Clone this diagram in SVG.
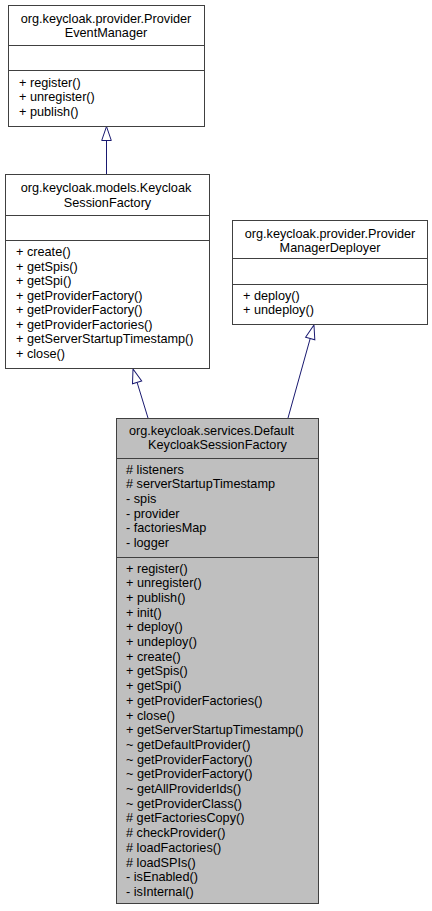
<svg xmlns="http://www.w3.org/2000/svg" width="432" height="911" viewBox="0 0 432 911">
<style>
text{font-family:"Liberation Sans",Arial,sans-serif;font-size:12.7px;fill:#000}
.t{text-anchor:middle}
.box{fill:#fff;stroke:#404040;stroke-width:1}
.cur{fill:#bfbfbf;stroke:#404040;stroke-width:1}
.div{stroke:#404040;stroke-width:1}
.edge{stroke:#191970;stroke-width:1;fill:none;marker-end:url(#tri)}
</style>
<defs>
<marker id="tri" markerUnits="userSpaceOnUse" markerWidth="16" markerHeight="12" refX="0.5" refY="6" orient="auto" overflow="visible">
<path d="M0.5,1.2 L14.5,6 L0.5,10.8 Z" fill="#fff" stroke="#191970" stroke-width="1"/>
</marker>
</defs>
<g id="connectors">
<path class="edge" d="M106.5,174 L106.5,140.5"/>
<path class="edge" d="M148,418 L137.1,382.4"/>
<path class="edge" d="M288,418 L310.2,338.5"/>
</g>
<g id="ProviderEventManager">
<rect class="box" x="8.5" y="5.5" width="196" height="121"/>
<line class="div" x1="8.5" y1="45.5" x2="204.5" y2="45.5"/>
<line class="div" x1="8.5" y1="70.5" x2="204.5" y2="70.5"/>
<text class="t" x="106" y="22.5">org.keycloak.provider.Provider</text>
<text class="t" x="106" y="37">EventManager</text>
<text x="19" y="86.5"><tspan x="19">+ register()</tspan><tspan x="19" dy="14.6">+ unregister()</tspan><tspan x="19" dy="14.6">+ publish()</tspan></text>
</g>
<g id="KeycloakSessionFactory">
<rect class="box" x="5.5" y="174.5" width="204" height="194"/>
<line class="div" x1="5.5" y1="215.5" x2="209.5" y2="215.5"/>
<line class="div" x1="5.5" y1="240.5" x2="209.5" y2="240.5"/>
<text class="t" x="106" y="192">org.keycloak.models.Keycloak</text>
<text class="t" x="107.5" y="206.5">SessionFactory</text>
<text x="16" y="256"><tspan x="16">+ create()</tspan><tspan x="16" dy="14.5">+ getSpis()</tspan><tspan x="16" dy="14.5">+ getSpi()</tspan><tspan x="16" dy="14.5">+ getProviderFactory()</tspan><tspan x="16" dy="14.5">+ getProviderFactory()</tspan><tspan x="16" dy="14.5">+ getProviderFactories()</tspan><tspan x="16" dy="14.5">+ getServerStartupTimestamp()</tspan><tspan x="16" dy="14.5">+ close()</tspan></text>
</g>
<g id="ProviderManagerDeployer">
<rect class="box" x="232.5" y="220.5" width="195" height="104"/>
<line class="div" x1="232.5" y1="258.5" x2="427.5" y2="258.5"/>
<line class="div" x1="232.5" y1="284.5" x2="427.5" y2="284.5"/>
<text class="t" x="330" y="237.5">org.keycloak.provider.Provider</text>
<text class="t" x="330" y="252">ManagerDeployer</text>
<text x="243" y="299.5"><tspan x="243">+ deploy()</tspan><tspan x="243" dy="14.6">+ undeploy()</tspan></text>
</g>
<g id="DefaultKeycloakSessionFactory">
<rect class="cur" x="116.5" y="418.5" width="202" height="485"/>
<line class="div" x1="116.5" y1="458.5" x2="318.5" y2="458.5"/>
<line class="div" x1="116.5" y1="557.5" x2="318.5" y2="557.5"/>
<text class="t" x="211.5" y="434.5">org.keycloak.services.Default</text>
<text class="t" x="217.5" y="449">KeycloakSessionFactory</text>
<text x="126" y="473.5"><tspan x="126"># listeners</tspan><tspan x="126" dy="14.7"># serverStartupTimestamp</tspan><tspan x="126" dy="14.7">- spis</tspan><tspan x="126" dy="14.7">- provider</tspan><tspan x="126" dy="14.7">- factoriesMap</tspan><tspan x="126" dy="14.7">- logger</tspan></text>
<text x="126" y="572.5"><tspan x="126">+ register()</tspan><tspan x="126" dy="14.7">+ unregister()</tspan><tspan x="126" dy="14.7">+ publish()</tspan><tspan x="126" dy="14.7">+ init()</tspan><tspan x="126" dy="14.7">+ deploy()</tspan><tspan x="126" dy="14.7">+ undeploy()</tspan><tspan x="126" dy="14.7">+ create()</tspan><tspan x="126" dy="14.7">+ getSpis()</tspan><tspan x="126" dy="14.7">+ getSpi()</tspan><tspan x="126" dy="14.7">+ getProviderFactories()</tspan><tspan x="126" dy="14.7">+ close()</tspan><tspan x="126" dy="14.7">+ getServerStartupTimestamp()</tspan><tspan x="126" dy="14.7">~ getDefaultProvider()</tspan><tspan x="126" dy="14.7">~ getProviderFactory()</tspan><tspan x="126" dy="14.7">~ getProviderFactory()</tspan><tspan x="126" dy="14.7">~ getAllProviderIds()</tspan><tspan x="126" dy="14.7">~ getProviderClass()</tspan><tspan x="126" dy="14.7"># getFactoriesCopy()</tspan><tspan x="126" dy="14.7"># checkProvider()</tspan><tspan x="126" dy="14.7"># loadFactories()</tspan><tspan x="126" dy="14.7"># loadSPIs()</tspan><tspan x="126" dy="14.7">- isEnabled()</tspan><tspan x="126" dy="14.7">- isInternal()</tspan></text>
</g>
</svg>
